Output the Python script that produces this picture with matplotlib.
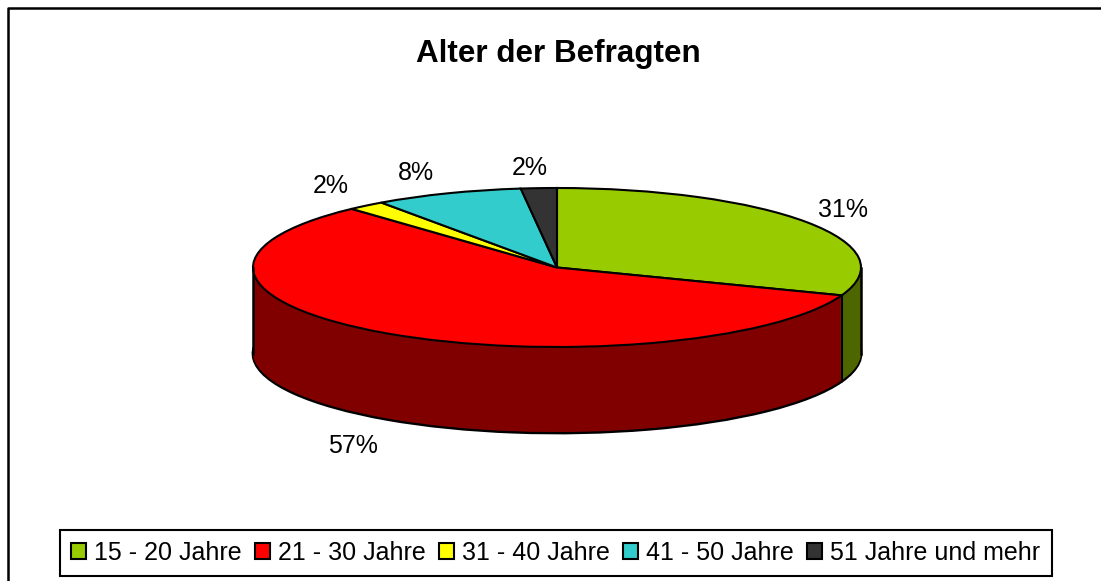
import matplotlib
matplotlib.use("Agg")
import matplotlib.pyplot as plt
from matplotlib.lines import Line2D
import numpy as np

plt.rcParams["font.family"] = ["Liberation Sans", "DejaVu Sans"]

categories = ["15 - 20 Jahre", "21 - 30 Jahre", "31 - 40 Jahre", "41 - 50 Jahre", "51 Jahre und mehr"]
values = [30.7, 57.5, 2.0, 7.9, 1.9]
pct_labels = ["31%", "57%", "2%", "8%", "2%"]
colors = ["#99cc00", "#ff0000", "#ffff00", "#33cccc", "#333333"]
side_colors = ["#4d6600", "#800000", "#808000", "#1a6666", "#1a1a1a"]

W, H = 1101, 581
cx, cy = 557, 267.5
rx, ry = 304, 79.5
depth = 86
squash = rx / ry

fig = plt.figure(figsize=(W / 100, H / 100), dpi=100, facecolor="white")
ax = fig.add_axes([0, 0, 1, 1])


def to_y(py):
    return (H - py) * squash


# side wall is a stack of pies shifted down, bottom one gives the outline
for d in range(depth, 0, -1):
    ax.pie(values, center=(cx, to_y(cy + d)), radius=rx, colors=side_colors,
           startangle=90, counterclock=False,
           wedgeprops={"linewidth": 2.0 if d == depth else 0,
                       "edgecolor": "black" if d == depth else "none"})

wedges, _ = ax.pie(values, center=(cx, to_y(cy)), radius=rx, colors=colors,
                   startangle=90, counterclock=False,
                   wedgeprops={"linewidth": 1.5, "edgecolor": "black"})

ax.set_aspect("auto")
ax.set_xlim(0, W)
ax.set_ylim(0, H * squash)
ax.axis("off")

# vertical edges of the wall
ang = np.deg2rad(90 - 360 * values[0] / sum(values))
edge_x = cx + rx * np.cos(ang)
edge_py = cy - ry * np.sin(ang)
ax.plot([edge_x, edge_x], [to_y(edge_py), to_y(edge_py + depth)], color="black", lw=1.5, zorder=5)
ax.plot([cx + rx, cx + rx], [to_y(cy), to_y(cy + depth)], color="black", lw=1.8, zorder=5)
ax.plot([cx - rx, cx - rx], [to_y(cy), to_y(cy + depth)], color="black", lw=1.8, zorder=5)

# outer frame, only top and left are in the picture
fig.add_artist(Line2D([7.5 / W, 7.5 / W, 1], [0, 1 - 7.5 / H, 1 - 7.5 / H], color="black", lw=1.8,
                      transform=fig.transFigure))

fig.text(558 / W, 1 - 54 / H, "Alter der Befragten", fontsize=22.6, fontweight="bold",
         ha="center", va="center", color="black")

label_pos = [(843, 210), (353, 446), (331, 186), (416, 173), (530, 168)]
for txt, (lx, ly) in zip(pct_labels, label_pos):
    fig.text(lx / W, 1 - ly / H, txt, fontsize=18, ha="center", va="center", color="black")

leg = fig.legend(wedges, categories, ncol=5, loc="center", bbox_to_anchor=(556 / W, 1 - 553 / H),
                 fontsize=18, frameon=True, fancybox=False, edgecolor="black", framealpha=1,
                 handlelength=0.6, handleheight=0.6, handletextpad=0.32, columnspacing=0.53,
                 borderpad=0.44, borderaxespad=0, labelspacing=0)
leg.get_frame().set_linewidth(1.5)
for h in leg.legend_handles:
    h.set_linewidth(1.5)

fig.savefig("out.png", dpi=100, facecolor="white")
